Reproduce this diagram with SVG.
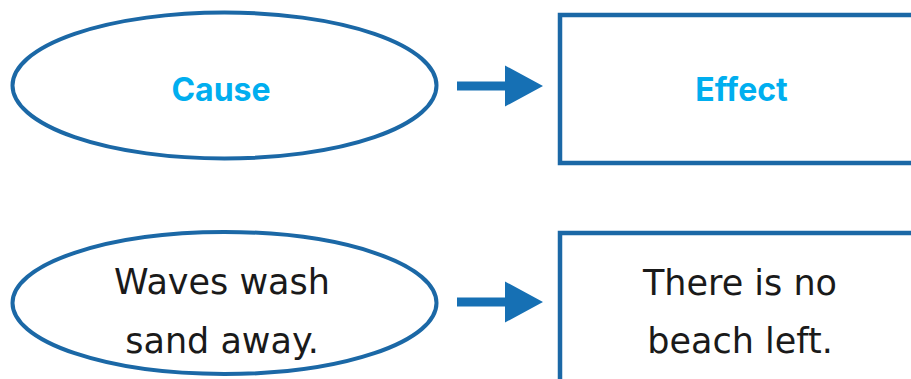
<svg xmlns="http://www.w3.org/2000/svg" width="911" height="379" viewBox="0 0 911 379">
<style>
.shape{fill:#ffffff;stroke:#1b68a6;}
.ell{stroke-width:4;}
.box{stroke-width:4.5;}
.head{font-family:Inter,"Open Sans",sans-serif;font-weight:700;font-size:32px;fill:#00aeef;text-anchor:middle;}
.hand{font-family:"DejaVu Sans","Noto Sans",sans-serif;font-size:35px;fill:#1a1a1a;text-anchor:middle;}
.arrow{fill:#1670b4;}
</style>
<defs>
<path id="arr" d="M0,-4.5 H48 V-20.5 L86,0 L48,20.5 V4.5 H0 Z"/>
</defs>
<rect width="911" height="379" fill="#ffffff"/>
<g id="cause-header">
<ellipse class="shape ell" cx="224.5" cy="85.5" rx="212" ry="73"/>
<text class="head" x="221" y="101">Cause</text>
</g>
<g id="effect-header">
<rect class="shape box" x="560" y="15" width="360" height="148"/>
<text class="head" x="741.5" y="101">Effect</text>
</g>
<g id="cause-1">
<ellipse class="shape ell" cx="224.5" cy="303" rx="212" ry="71"/>
<text class="hand" x="222" y="294">Waves wash</text>
<text class="hand" x="222" y="353">sand away.</text>
</g>
<g id="effect-1">
<rect class="shape box" x="560" y="233" width="360" height="160"/>
<text class="hand" x="740" y="295">There is no</text>
<text class="hand" x="740" y="353">beach left.</text>
</g>
<g id="connectors">
<use href="#arr" class="arrow" x="457" y="86"/>
<use href="#arr" class="arrow" x="457" y="302"/>
</g>
</svg>
